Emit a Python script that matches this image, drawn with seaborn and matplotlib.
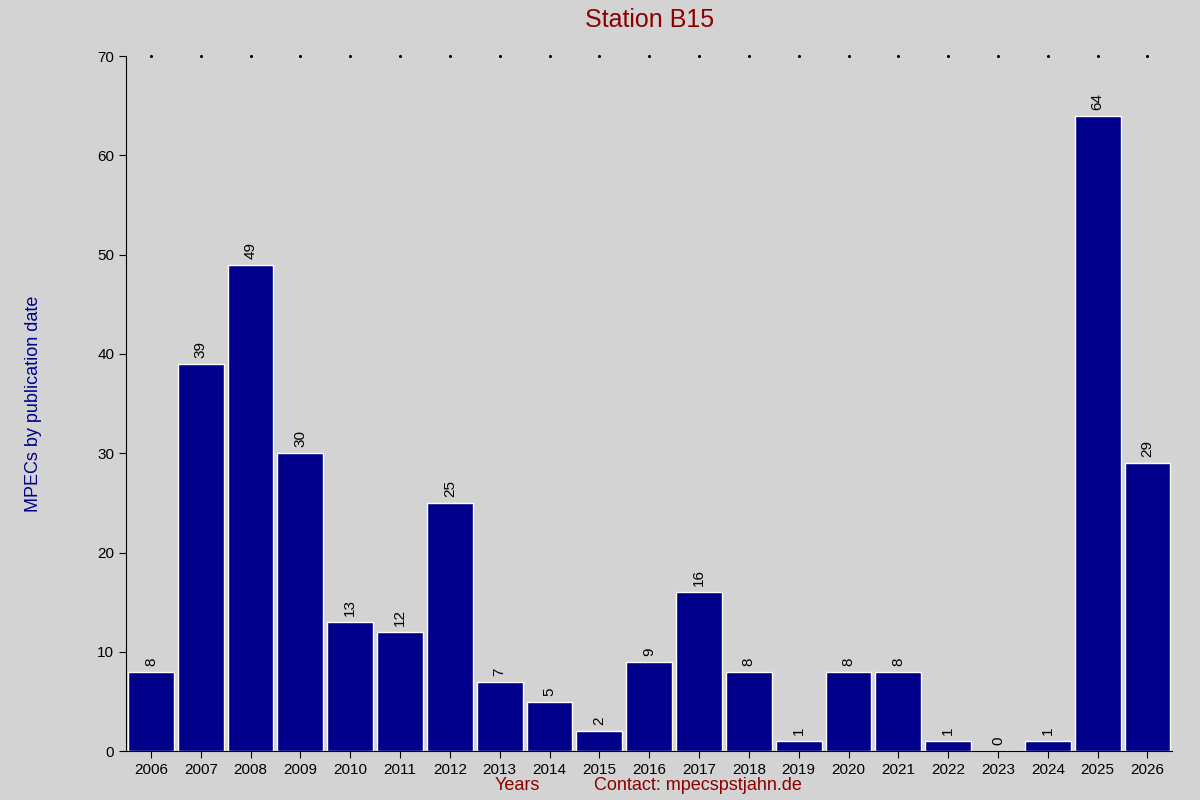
import matplotlib
matplotlib.use("Agg")
import matplotlib.pyplot as plt
import seaborn as sns
import pandas as pd

years = [str(y) for y in range(2006, 2027)]
counts = [8, 39, 49, 30, 13, 12, 25, 7, 5, 2, 9, 16, 8, 1, 8, 8, 1, 0, 1, 64, 29]

sns.set_style("white")
plt.rcParams['font.family'] = ['Liberation Sans', 'DejaVu Sans']

fig = plt.figure(figsize=(12, 8), dpi=100, facecolor='#D3D3D3')
ax = fig.add_axes([0.105, 0.061, 0.872, 0.869])
ax.set_facecolor('#D3D3D3')
df = pd.DataFrame({'year': years, 'count': counts})
sns.barplot(data=df, x='year', y='count', color='#00008B', saturation=1, width=0.92, ax=ax)
ax.set_xlim(-0.5, len(years) - 0.5)
ax.set_ylim(0, 70)
ax.set_yticks(range(0, 71, 10))
for i, v in enumerate(counts):
    ax.text(i, v + 0.6, str(v), rotation=90, ha='center', va='bottom', fontsize=11, color='black')
ax.scatter(range(len(years)), [70] * len(years), s=1.5, color='black', clip_on=False)
for s in ['top', 'right']:
    ax.spines[s].set_visible(False)
for s in ['left', 'bottom']:
    ax.spines[s].set_color('black')
ax.tick_params(axis='both', length=5, direction='out', labelsize=11, colors='black', left=True, bottom=True)
ax.set_xlabel('')
ax.set_ylabel('MPECs by publication date', color='#00008B', fontsize=13, labelpad=40)
fig.text(0.541, 0.975, 'Station B15', ha='center', va='center', color='#8B0000', fontsize=18)
fig.text(0.431, 0.018, 'Years', ha='center', va='center', color='#8B0000', fontsize=13)
fig.text(0.582, 0.018, 'Contact: mpecspstjahn.de', ha='center', va='center', color='#8B0000', fontsize=13)
fig.savefig('out.png', dpi=100, facecolor=fig.get_facecolor())
